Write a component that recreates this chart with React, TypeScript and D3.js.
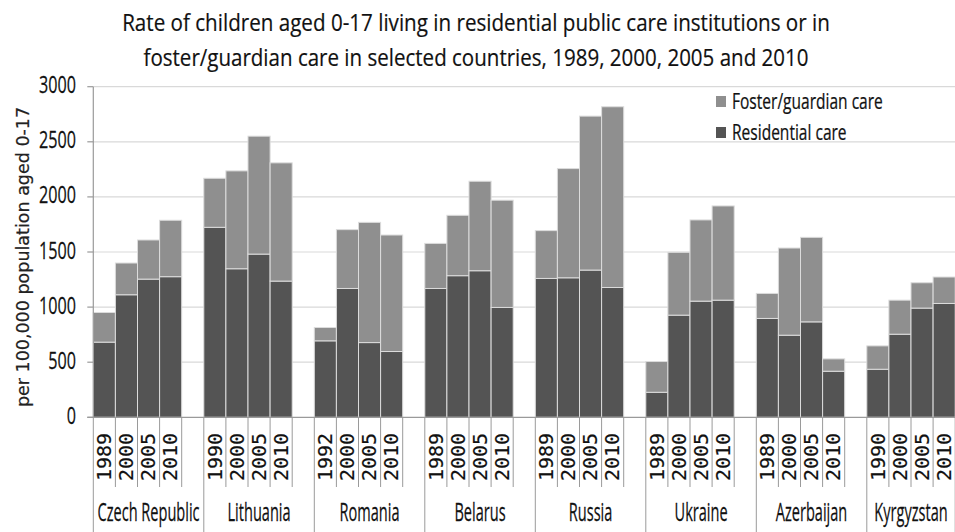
import React, { useLayoutEffect, useRef, useState } from "react";
import * as d3 from "d3";

// Rates per 100,000 population aged 0-17
const countries = [
  "Czech Republic",
  "Lithuania",
  "Romania",
  "Belarus",
  "Russia",
  "Ukraine",
  "Azerbaijan",
  "Kyrgyzstan",
];

const years = [
  ["1989", "2000", "2005", "2010"],
  ["1990", "2000", "2005", "2010"],
  ["1992", "2000", "2005", "2010"],
  ["1989", "2000", "2005", "2010"],
  ["1989", "2000", "2005", "2010"],
  ["1989", "2000", "2005", "2010"],
  ["1989", "2000", "2005", "2010"],
  ["1990", "2000", "2005", "2010"],
];

const residential = [
  [682, 1112, 1254, 1276],
  [1724, 1348, 1481, 1236],
  [694, 1169, 678, 597],
  [1169, 1285, 1330, 997],
  [1260, 1266, 1336, 1178],
  [227, 927, 1054, 1063],
  [897, 745, 866, 418],
  [436, 754, 991, 1033],
];

const foster = [
  [269, 288, 355, 512],
  [445, 888, 1070, 1073],
  [121, 534, 1091, 1057],
  [409, 548, 812, 973],
  [434, 991, 1397, 1640],
  [279, 570, 737, 855],
  [227, 791, 767, 112],
  [212, 309, 230, 240],
];

const yTicks = [0, 500, 1000, 1500, 2000, 2500, 3000];

const titleLines = [
  "Rate of children aged 0-17 living in residential public care institutions or in",
  "foster/guardian care in selected countries, 1989, 2000, 2005 and 2010",
];

const seriesNames = ["Foster/guardian care", "Residential care"];

const W = 955;
const H = 532;
const plot = { left: 93.3, right: 955.2, top: 86.7, bottom: 417.3 };

const COLOR_RES = "#545454";
const COLOR_FOS = "#8f8f8f";
const GRID = "#d9d9d9";
const AXIS = "#9a9a9a";
const SANS = "'Open Sans', 'Noto Sans', sans-serif";

// one slot per year, plus an empty slot after each country except the last
type Slot = { key: string; group: number; idx: number; blank: boolean };
const slots: Slot[] = [];
countries.forEach((c, g) => {
  years[g].forEach((yr, i) => slots.push({ key: `${c}-${yr}`, group: g, idx: i, blank: false }));
  if (g < countries.length - 1) slots.push({ key: `${c}-gap`, group: g, idx: 4, blank: true });
});

function SText(props: {
  x: number;
  y: number;
  k?: number;
  size: number;
  anchor?: string;
  family?: string;
  children: React.ReactNode;
}) {
  const { x, y, k = 1, size, anchor = "start", family = SANS, children } = props;
  return (
    <text
      transform={`translate(${x},${y}) scale(${k},1)`}
      fontFamily={family}
      fontSize={size}
      textAnchor={anchor}
      fill="#111"
      stroke="#111"
      strokeWidth={0.25}
    >
      {children}
    </text>
  );
}

// condensed title line: measures its natural width and squeezes it to `width`
function FitTitle(props: { x: number; y: number; width: number; size: number; children: string }) {
  const { x, y, width, size, children } = props;
  const ref = useRef<SVGTextElement>(null);
  const [k, setK] = useState(0.76);
  useLayoutEffect(() => {
    if (ref.current) {
      const natural = ref.current.getComputedTextLength();
      if (natural > 0) setK(width / natural);
    }
  }, [width, children]);
  return (
    <text
      ref={ref}
      transform={`translate(${x},${y}) scale(${k},1)`}
      fontFamily={SANS}
      fontSize={size}
      textAnchor="middle"
      fill="#111"
      stroke="#111"
      strokeWidth={0.2}
    >
      {children}
    </text>
  );
}

export default function App() {
  const x = d3
    .scaleBand<string>()
    .domain(slots.map((s) => s.key))
    .range([plot.left, plot.right])
    .padding(0);
  const y = d3.scaleLinear().domain([0, 3000]).range([plot.bottom, plot.top]);
  const bw = x.bandwidth();

  const groupStart = (g: number) => x(`${countries[g]}-${years[g][0]}`)!;
  const groupEnd = (g: number) =>
    g < countries.length - 1 ? x(`${countries[g]}-gap`)! + bw : plot.right;

  return (
    <svg
      width={W}
      height={H}
      style={{ position: "absolute", left: 0, top: 0, background: "#fff" }}
    >
      <rect x={0} y={0} width={W} height={H} fill="#fff" />

      {/* title */}
      {titleLines.map((t, i) => (
        <FitTitle key={i} x={476} y={31 + i * 35} width={i === 0 ? 708 : 665} size={24.5}>
          {t}
        </FitTitle>
      ))}

      {/* gridlines */}
      {yTicks
        .filter((t) => t > 0)
        .map((t) => (
          <line key={t} x1={plot.left} x2={plot.right} y1={y(t)} y2={y(t)} stroke={GRID} strokeWidth={1.2} />
        ))}

      {/* bars */}
      {slots
        .filter((s) => !s.blank)
        .map((s) => {
          const r = residential[s.group][s.idx];
          const f = foster[s.group][s.idx];
          const x0 = x(s.key)!;
          return (
            <g key={s.key}>
              <rect x={x0} y={y(r)} width={bw} height={y(0) - y(r)} fill={COLOR_RES} stroke="#dcdcdc" strokeWidth={1} />
              <rect x={x0} y={y(r + f)} width={bw} height={y(r) - y(r + f)} fill={COLOR_FOS} stroke="#dcdcdc" strokeWidth={1} />
            </g>
          );
        })}

      {/* y axis */}
      <line x1={plot.left} x2={plot.left} y1={plot.top} y2={plot.bottom} stroke={AXIS} strokeWidth={1.2} />
      {yTicks.map((t) => (
        <g key={t}>
          <line x1={plot.left - 6} x2={plot.left} y1={y(t)} y2={y(t)} stroke={AXIS} strokeWidth={1.2} />
          <SText x={76} y={y(t) + 6.5} k={0.66} size={24.5} anchor="end">
            {t}
          </SText>
        </g>
      ))}
      <text
        transform={`translate(29,257) rotate(-90)`}
        fontFamily="'DejaVu Sans', sans-serif"
        fontSize={17.5}
        textAnchor="middle"
        fill="#222"
        stroke="#222"
        strokeWidth={0.2}
      >
        per 100,000 population aged 0-17
      </text>

      {/* x axis baseline */}
      <line x1={plot.left - 6} x2={plot.right} y1={plot.bottom} y2={plot.bottom} stroke={AXIS} strokeWidth={1.2} />

      {/* category separators: short between years, long between countries */}
      {slots.map((s) => {
        const x1 = x(s.key)! + bw;
        const isGroupEnd = s.blank || (s.group === countries.length - 1 && s.idx === 3);
        return (
          <line
            key={`sep-${s.key}`}
            x1={x1}
            x2={x1}
            y1={plot.bottom}
            y2={isGroupEnd ? H : 487}
            stroke={AXIS}
            strokeWidth={1}
          />
        );
      })}
      <line x1={plot.left} x2={plot.left} y1={plot.bottom} y2={H} stroke={AXIS} strokeWidth={1} />

      {/* year labels */}
      {slots
        .filter((s) => !s.blank)
        .map((s) => {
          const cx = x(s.key)! + bw / 2;
          return (
            <text
              key={`yl-${s.key}`}
              transform={`translate(${cx + 6.8},433) rotate(-90) scale(1.05,1)`}
              fontFamily="'DejaVu Sans Mono', monospace"
              fontSize={19}
              textAnchor="end"
              fill="#111"
              stroke="#111"
              strokeWidth={0.2}
            >
              {years[s.group][s.idx]}
            </text>
          );
        })}

      {/* country labels */}
      {countries.map((c, g) => (
        <SText key={c} x={(groupStart(g) + groupEnd(g)) / 2} y={521} k={0.56} size={26} anchor="middle">
          {c}
        </SText>
      ))}

      {/* legend */}
      {seriesNames.map((n, i) => (
        <g key={n}>
          <rect x={716} y={96 + i * 31} width={10} height={11} fill={i === 0 ? COLOR_FOS : COLOR_RES} />
          <SText x={732} y={108.5 + i * 31.5} k={0.74} size={21}>
            {n}
          </SText>
        </g>
      ))}
    </svg>
  );
}
